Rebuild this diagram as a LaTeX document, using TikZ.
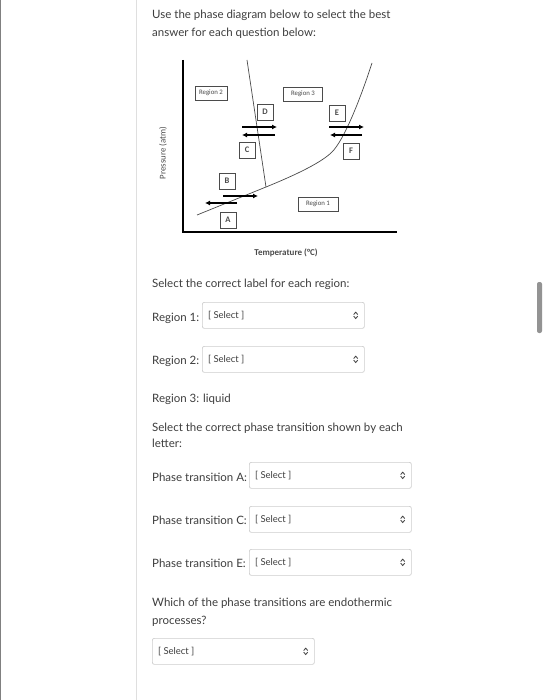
\documentclass[tikz,border=0pt]{standalone}
\usepackage{fontspec}
\setmainfont{Lato}
\newfontfamily\diagfont{Carlito}
\usetikzlibrary{arrows.meta}
\definecolor{txt}{RGB}{62,62,62}
\definecolor{boxline}{RGB}{205,205,205}
\definecolor{plot}{RGB}{75,75,75}
\tikzset{
 body/.style={anchor=base west, inner sep=0pt, font=\fontsize{11.5}{13}\selectfont, text=txt},
 selbox/.style={draw=boxline, rounded corners=2pt, line width=0.7pt, fill=white, anchor=north west, minimum width=162pt, minimum height=26pt},
 seltext/.style={anchor=west, inner sep=0pt, font=\fontsize{9.5}{11}\selectfont, text=txt},
 regbox/.style={draw=plot, line width=0.6pt, inner sep=0pt, minimum height=14pt, font=\diagfont\fontsize{6.8}{7}\selectfont, text=plot},
 letbox/.style={draw=plot, line width=0.6pt, minimum width=16pt, minimum height=16pt, inner sep=0pt, font=\diagfont\fontsize{8.5}{9}\selectfont\bfseries, text=plot},
 arr/.style={line width=1.4pt, -{Latex[length=5pt,width=5pt]}},
 curve/.style={line width=0.7pt, draw=plot},
 updn/.pic={\draw[line width=0.8pt, txt] (-2,-0.8) -- (0,-3.2) -- (2,-0.8);
            \draw[line width=0.8pt, txt] (-2,0.8) -- (0,3.2) -- (2,0.8);},
}
\begin{document}
\begin{tikzpicture}[x=1pt,y=-1pt]
\useasboundingbox (0,0) rectangle (546,700);
\fill[white] (0,0) rectangle (546,700);
\draw[gray, line width=1pt] (0.5,0) -- (0.5,700);
\draw[gray!25, line width=0.8pt] (136.5,0) -- (136.5,700);
\node[fill=gray!85, rounded corners=2pt, minimum width=5pt, minimum height=51pt, inner sep=0pt] (scroll) at (539.5,307.5) {};

% header text
\node[body] (h1) at (152,19) {Use the phase diagram below to select the best};
\node[body] (h2) at (152,37) {answer for each question below:};

% axes
\coordinate (ytop) at (183,60);
\coordinate (orig) at (183,232);
\coordinate (xend) at (397,232);
\draw[line width=1.3pt] (ytop) -- (orig) -- (xend);
\node[rotate=90, font=\diagfont\fontsize{8.8}{9}\selectfont, text=plot] (plab) at (163,153) {Pressure (atm)};
\node[font=\diagfont\fontsize{9}{10}\selectfont\bfseries, text=plot] (tlab) at (286,253) {Temperature (°C)};

% phase curves
\coordinate (tp) at (266,187);
\coordinate (s0) at (197,215);
\coordinate (f1) at (247,60);
\coordinate (v1) at (372,63);
\draw[curve] (s0) -- (tp);
\draw[curve] (tp) -- (f1);
\draw[curve] (tp) .. controls (298,174) and (322,162) .. (332,152) .. controls (344,140) and (360,100) .. (v1);

% region boxes
\node[regbox, minimum width=32pt] (r2) at (211,93) {Region 2};
\node[regbox, minimum width=39pt] (r3) at (303,94) {Region 3};
\node[regbox, minimum width=40pt] (r1) at (318,204) {Region 1};

% letter boxes
\node[letbox] (D) at (265,112) {D};
\node[letbox] (E) at (337,113) {E};
\node[letbox] (C) at (247,150) {C};
\node[letbox] (F) at (351,151) {F};
\node[letbox] (B) at (227,181) {B};
\node[letbox] (A) at (228,220) {A};

% transition arrows
\coordinate (d0) at (242,127); \coordinate (d1) at (277,127);
\coordinate (c0) at (275,135); \coordinate (c1) at (242,135);
\coordinate (e0) at (329,127); \coordinate (e1) at (364,127);
\coordinate (f0) at (362,135); \coordinate (f2) at (330,135);
\coordinate (b0) at (223,196); \coordinate (b1) at (258,196);
\coordinate (a0) at (237,203); \coordinate (a1) at (205,203);
\draw[arr] (d0) -- (d1);
\draw[arr] (c0) -- (c1);
\draw[arr] (e0) -- (e1);
\draw[arr] (f0) -- (f2);
\draw[arr] (b0) -- (b1);
\draw[arr] (a0) -- (a1);

% questions
\node[body] (q1) at (152,287) {Select the correct label for each region:};

\node[body] (l1) at (152,321) {Region 1:};
\node[selbox] (s1) at (202,302) {};
\node[seltext] (s1t) at ([xshift=6pt]s1.west) {[ Select ]};
\pic at ([xshift=-9pt]s1.east) {updn};

\node[body] (l2) at (152,364) {Region 2:};
\node[selbox] (s2) at (202,346) {};
\node[seltext] (s2t) at ([xshift=6pt]s2.west) {[ Select ]};
\pic at ([xshift=-9pt]s2.east) {updn};

\node[body] (l3) at (152,402) {Region 3: liquid};

\node[body] (q2) at (152,431) {Select the correct phase transition shown by each};
\node[body] (q2b) at (152,447) {letter:};

\node[body] (pA) at (152,481) {Phase transition A:};
\node[selbox] (sA) at (249,462) {};
\node[seltext] (sAt) at ([xshift=6pt]sA.west) {[ Select ]};
\pic at ([xshift=-9pt]sA.east) {updn};

\node[body] (pC) at (152,524) {Phase transition C:};
\node[selbox] (sC) at (249,506) {};
\node[seltext] (sCt) at ([xshift=6pt]sC.west) {[ Select ]};
\pic at ([xshift=-9pt]sC.east) {updn};

\node[body] (pE) at (152,567) {Phase transition E:};
\node[selbox] (sE) at (249,549) {};
\node[seltext] (sEt) at ([xshift=6pt]sE.west) {[ Select ]};
\pic at ([xshift=-9pt]sE.east) {updn};

\node[body] (q3) at (152,606) {Which of the phase transitions are endothermic};
\node[body] (q3b) at (152,624) {processes?};
\node[selbox] (sX) at (152,638) {};
\node[seltext] (sXt) at ([xshift=6pt]sX.west) {[ Select ]};
\pic at ([xshift=-9pt]sX.east) {updn};
\end{tikzpicture}
\end{document}
